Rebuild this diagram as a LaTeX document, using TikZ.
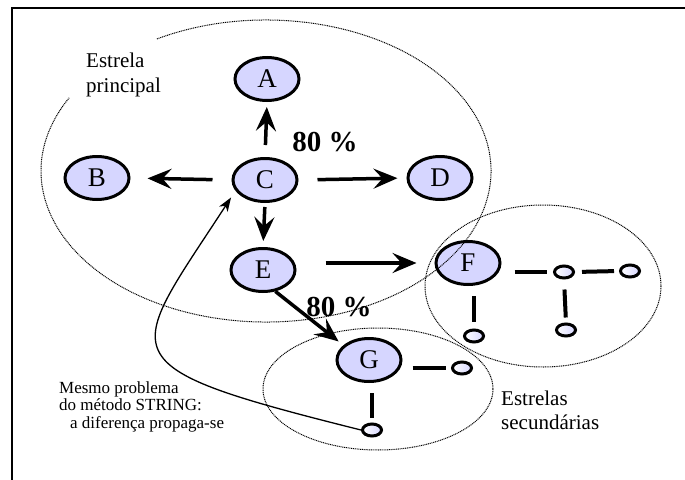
\documentclass[tikz,border=0pt]{standalone}
\usepackage{fontspec}
\setmainfont{Liberation Serif}
\usetikzlibrary{arrows.meta,shapes.geometric}
\definecolor{nodeblue}{RGB}{214,214,255}

\begin{document}
\begin{tikzpicture}[x=1pt,y=-1pt,
    hub/.style={ellipse,draw,line width=3pt,fill=nodeblue,minimum width=64pt,
      minimum height=43pt,inner sep=0pt,font=\fontsize{27}{30}\selectfont},
    leaf/.style={ellipse,draw,line width=3pt,left color=white,right color=nodeblue,
      minimum width=19pt,minimum height=12pt,inner sep=0pt},
    push/.style={line width=3.5pt,-{Stealth[length=24pt,width=20pt,inset=9pt]}},
    link/.style={line width=4pt,shorten <=10pt,shorten >=6pt},
    zone/.style={line width=1pt,dash pattern=on 1pt off 0.8pt},
    rate/.style={font=\bfseries\fontsize{29}{32}\selectfont,inner sep=0pt},
    tag/.style={anchor=base west,align=left,inner sep=0pt}]
  \useasboundingbox (0,0) rectangle (685,479);
  \draw[line width=2pt] (12,500) |- (700,8);
  \draw
    (267,79) node[hub] (A) {A}
    (97,178) node[hub] (B) {B}
    (265,180) node[hub] (C) {C}
    (440,178) node[hub] (D) {D}
    (263,270) node[hub] (E) {E}
    (468,263) node[hub] (F) {F}
    (369,360) node[hub] (G) {G};
  \draw
    (564,272) node[leaf] (f1) {}
    (630,271) node[leaf] (f2) {}
    (566,330) node[leaf] (f3) {}
    (474,336) node[leaf] (f4) {}
    (462,368) node[leaf] (g1) {}
    (372,430) node[leaf] (g2) {};
  % zonas
  \draw[zone] (266,171) ++(-119:225 and 151)
    arc[start angle=-119,end angle=209,x radius=225,y radius=151];
  \draw[zone] (543,286) ellipse[x radius=118,y radius=81];
  \draw[zone] (378,389) ellipse[x radius=115,y radius=61];
  \begin{scope}[push]
    \draw[shorten <=12pt,shorten >=5pt] (C.north) to (A.south);
    \draw[shorten <=19pt,shorten >=17pt] (C.west) to (B.east);
    \draw[shorten <=19pt,shorten >=9pt] (C.east) to (D.west);
    \draw[shorten <=4pt,shorten >=6pt] (C.south) to (E.north);
    \draw[shorten <=29pt,shorten >=18pt] (E.east |- F.west) to (F.west);
    \draw[shorten >=6pt] (E.-60) to (G.150);
  \end{scope}
  \begin{scope}[link]
    \draw[shorten <=13pt] (F.east |- f1) to (f1.west);
    \draw[shorten <=7pt,shorten >=5pt] (f1.east) to (f2.west);
    \draw[shorten >=5pt] (f1.south) to (f3.north);
    \draw[shorten >=7pt] (f4 |- F.south) to (f4.north);
    \draw[shorten >=5pt] (G.east |- g1) to (g1.west);
    \draw[shorten >=5pt] (g2 |- G.south) to (g2.north);
  \end{scope}
  \draw[line width=1.3pt,-{Stealth[length=14pt,width=10pt,inset=4pt]},shorten >=8pt]
    (g2.west) .. controls (101,365) and (126,359) .. (C.200);
  \node[rate] (rateC) at (325,142) {80 \%};
  \node[rate] (rateE) at (339,307) {80 \%};
  \node[tag,font=\fontsize{21}{25}\selectfont] (main) at (86,92) {Estrela\\principal};
  \node[tag,font=\fontsize{21}{24}\selectfont] (second) at (501,429) {Estrelas\\secundárias};
  \node[tag,font=\fontsize{17}{17.5}\selectfont] (note) at (59,428)
    {Mesmo problema\\do método STRING:\\\hspace*{11pt}a diferença propaga-se};
\end{tikzpicture}
\end{document}
